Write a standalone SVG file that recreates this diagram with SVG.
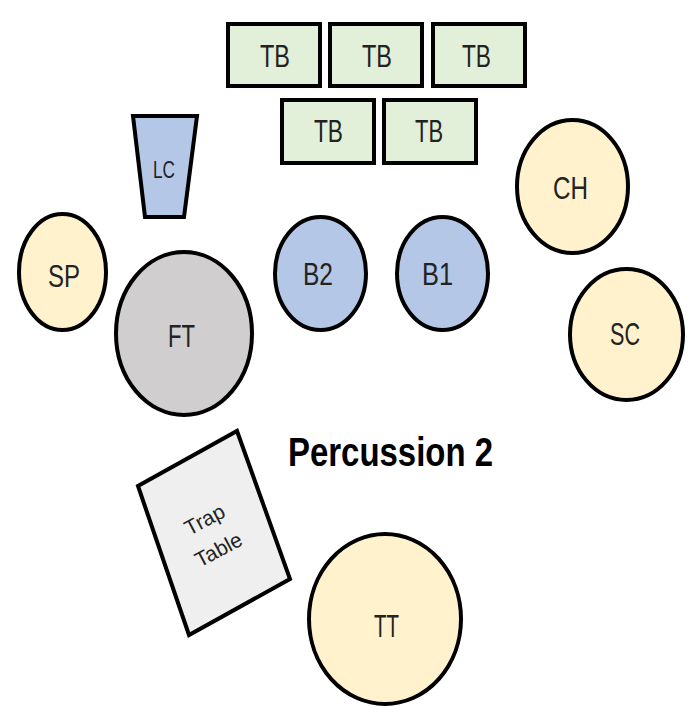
<svg xmlns="http://www.w3.org/2000/svg" width="691" height="712" viewBox="0 0 691 712">
<style>
.s{stroke:#000;stroke-width:4}
.tb{fill:#E2EFD9}
.bl{fill:#B4C7E7}
.yl{fill:#FFF2CC}
.gy{fill:#D0CECE}
.tt{fill:#EFEFEF}
.lb{font-family:"Liberation Sans",Arial,sans-serif;font-size:32px;fill:#222}
</style>
<rect width="691" height="712" fill="#fff"/>
<g id="tb1"><rect class="s tb" x="228" y="24" width="92" height="62"/><text class="lb" x="260" y="67" textLength="30" lengthAdjust="spacingAndGlyphs">TB</text></g>
<g id="tb2"><rect class="s tb" x="330" y="24" width="92" height="62"/><text class="lb" x="362" y="67" textLength="30" lengthAdjust="spacingAndGlyphs">TB</text></g>
<g id="tb3"><rect class="s tb" x="433" y="24" width="92" height="62"/><text class="lb" x="462" y="67" textLength="29" lengthAdjust="spacingAndGlyphs">TB</text></g>
<g id="tb4"><rect class="s tb" x="282" y="100" width="92" height="63"/><text class="lb" x="314" y="142" textLength="29" lengthAdjust="spacingAndGlyphs">TB</text></g>
<g id="tb5"><rect class="s tb" x="384" y="100" width="92" height="63"/><text class="lb" x="415" y="142" textLength="28" lengthAdjust="spacingAndGlyphs">TB</text></g>
<g id="lc"><polygon class="s bl" points="133,116 197,116 184,217 145,217"/><text class="lb" x="153" y="178" style="font-size:23px" textLength="22" lengthAdjust="spacingAndGlyphs">LC</text></g>
<g id="sp"><ellipse class="s yl" cx="62.5" cy="272" rx="43.5" ry="58"/><text class="lb" x="48" y="287" textLength="32" lengthAdjust="spacingAndGlyphs">SP</text></g>
<g id="ft"><ellipse class="s gy" cx="184" cy="333.5" rx="68" ry="81.5"/><text class="lb" x="168" y="347" textLength="27" lengthAdjust="spacingAndGlyphs">FT</text></g>
<g id="b2"><ellipse class="s bl" cx="320.5" cy="273.5" rx="45.5" ry="56.5"/><text class="lb" x="303" y="285" textLength="30" lengthAdjust="spacingAndGlyphs">B2</text></g>
<g id="b1"><ellipse class="s bl" cx="442.5" cy="273.5" rx="45.5" ry="56.5"/><text class="lb" x="422" y="285" textLength="31" lengthAdjust="spacingAndGlyphs">B1</text></g>
<g id="ch"><ellipse class="s yl" cx="572.5" cy="186.5" rx="55.5" ry="66.5"/><text class="lb" x="553" y="199" textLength="35" lengthAdjust="spacingAndGlyphs">CH</text></g>
<g id="sc"><ellipse class="s yl" cx="626.5" cy="334.5" rx="56.5" ry="65.5"/><text class="lb" x="610" y="345" textLength="30" lengthAdjust="spacingAndGlyphs">SC</text></g>
<g id="tt"><ellipse class="s yl" cx="385" cy="619" rx="76" ry="85"/><text class="lb" x="374" y="637" textLength="25" lengthAdjust="spacingAndGlyphs">TT</text></g>
<g id="trap"><polygon class="s tt" points="237,431 290,579 189,635 138,486"/>
<text class="lb" style="font-size:21px" text-anchor="middle" transform="translate(208,526) rotate(-28)">Trap</text>
<text class="lb" style="font-size:21px" text-anchor="middle" transform="translate(222,556) rotate(-28)">Table</text></g>
<g id="title"><text x="288" y="466" style="font-family:'Liberation Sans',Arial,sans-serif;font-weight:bold;font-size:40px;fill:#000" textLength="205" lengthAdjust="spacingAndGlyphs">Percussion 2</text></g>
<g id="connectors"/>
</svg>
